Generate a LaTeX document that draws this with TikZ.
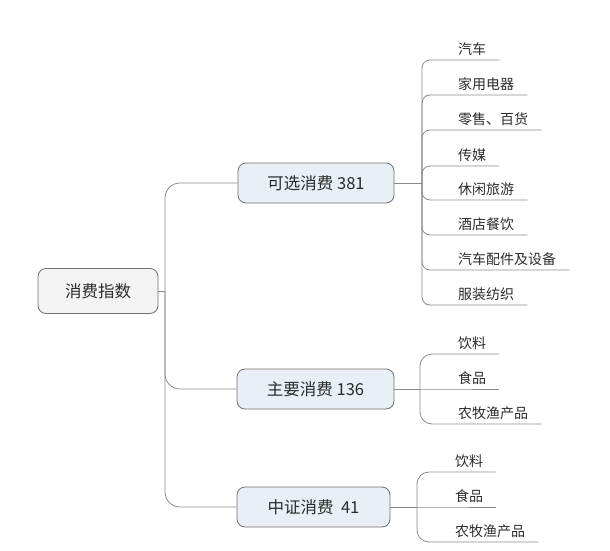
\documentclass[tikz,border=0pt]{standalone}
\usepackage{fontspec}
\setmainfont{Noto Sans CJK SC}
\definecolor{edgegray}{HTML}{707070}
\definecolor{linegray}{HTML}{8A8A8A}
\definecolor{rootfill}{HTML}{F3F3F3}
\definecolor{catfill}{HTML}{E9EFF7}
\definecolor{inkgray}{HTML}{2B2B2B}

\begin{document}
\begin{tikzpicture}[x=1pt, y=-1pt,
    rootbox/.style={draw=edgegray, fill=rootfill, line width=0.8pt, rounded corners=8pt,
      minimum width=120pt, minimum height=45pt, text=inkgray, font=\fontsize{16.5}{20}\selectfont},
    catbox/.style={draw=edgegray, fill=catfill, line width=0.8pt, rounded corners=8pt,
      minimum height=40pt, text=inkgray, font=\fontsize{16.5}{20}\selectfont},
    leaf/.style={anchor=south west, inner xsep=13pt, inner ysep=4pt, text=inkgray,
      font=\fontsize{14}{16}\selectfont},
    link/.style={draw=linegray, line width=0.8pt}]
  \useasboundingbox (0,0) rectangle (610,551);
  % Le noeud racine
  \node[rootbox] (root) at (98,291) {消费指数};
  % Les trois indices
  \node[catbox, minimum width=156pt] (kx) at (316,183) {可选消费 381};
  \node[catbox, minimum width=157pt] (zy) at (315.5,389) {主要消费 136};
  \node[catbox, minimum width=153pt] (zz) at (313.5,507) {中证消费~~41};
  % Le tronc
  \coordinate (trunk) at (165,291);
  \draw[link] (root.east) -- (trunk);
  \draw[link, rounded corners=15pt] (trunk) |- (kx.west);
  \draw[link, rounded corners=15pt] (trunk) |- (zy.west);
  \draw[link, rounded corners=15pt] (trunk) |- (zz.west);
  % Les secteurs de l'indice 可选消费
  \coordinate (kxs) at (422,183);
  \draw[link] (kx.east) -- (kxs);
  \node[leaf] (qc) at (445,60) {汽车};
  \node[leaf] (jydq) at (445,95) {家用电器};
  \node[leaf] (lsbh) at (445,130) {零售、百货};
  \node[leaf] (cm) at (445,166) {传媒};
  \node[leaf] (xxly) at (445,200) {休闲旅游};
  \node[leaf] (jdcy) at (445,235) {酒店餐饮};
  \node[leaf] (qcpj) at (445,270) {汽车配件及设备};
  \node[leaf] (fzfz) at (445,305) {服装纺织};
  \draw[link, rounded corners=8pt] (kxs) |- (qc.south west) -- (qc.south east);
  \draw[link, rounded corners=8pt] (kxs) |- (jydq.south west) -- (jydq.south east);
  \draw[link, rounded corners=8pt] (kxs) |- (lsbh.south west) -- (lsbh.south east);
  \draw[link, rounded corners=8pt] (kxs) |- (cm.south west) -- (cm.south east);
  \draw[link, rounded corners=8pt] (kxs) |- (xxly.south west) -- (xxly.south east);
  \draw[link, rounded corners=8pt] (kxs) |- (jdcy.south west) -- (jdcy.south east);
  \draw[link, rounded corners=8pt] (kxs) |- (qcpj.south west) -- (qcpj.south east);
  \draw[link, rounded corners=8pt] (kxs) |- (fzfz.south west) -- (fzfz.south east);
  % Les secteurs de l'indice 主要消费
  \coordinate (zys) at (420,389);
  \draw[link] (zy.east) -- (zys);
  \node[leaf] (yla) at (445,354) {饮料};
  \node[leaf] (spa) at (445,389) {食品};
  \node[leaf] (nma) at (445,424) {农牧渔产品};
  \draw[link, rounded corners=12pt] (zys) |- (yla.south west) -- (yla.south east);
  \draw[link] (zys) -- (spa.south west) -- (spa.south east);
  \draw[link, rounded corners=12pt] (zys) |- (nma.south west) -- (nma.south east);
  % Les secteurs de l'indice 中证消费
  \coordinate (zzs) at (417,507);
  \draw[link] (zz.east) -- (zzs);
  \node[leaf] (ylb) at (442,472) {饮料};
  \node[leaf] (spb) at (442,507) {食品};
  \node[leaf] (nmb) at (442,542) {农牧渔产品};
  \draw[link, rounded corners=12pt] (zzs) |- (ylb.south west) -- (ylb.south east);
  \draw[link] (zzs) -- (spb.south west) -- (spb.south east);
  \draw[link, rounded corners=12pt] (zzs) |- (nmb.south west) -- (nmb.south east);
\end{tikzpicture}
\end{document}
